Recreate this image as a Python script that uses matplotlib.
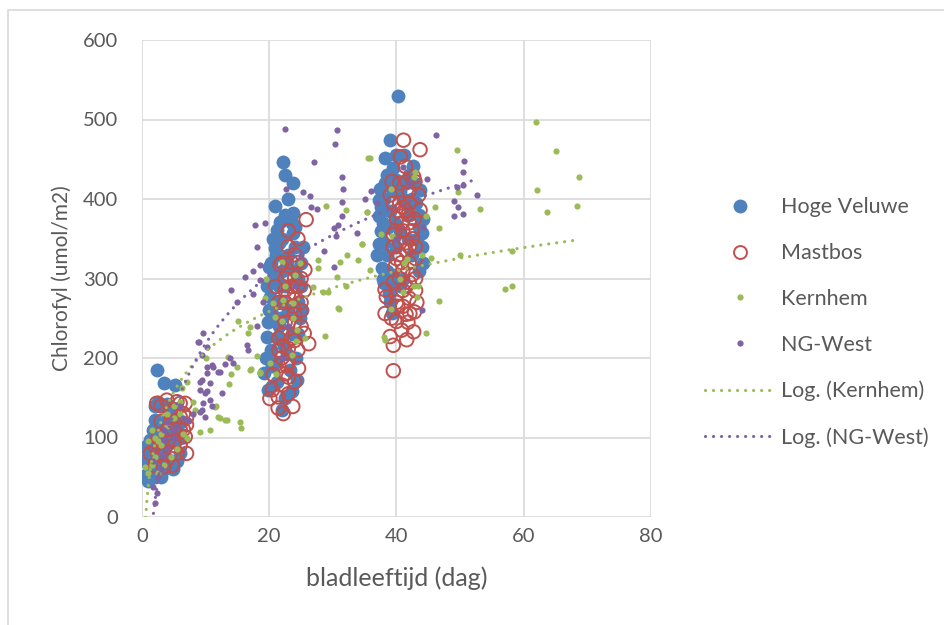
import numpy as np
import matplotlib
matplotlib.use("Agg")
import matplotlib.pyplot as plt
from matplotlib.lines import Line2D
from matplotlib.patches import Rectangle

plt.rcParams['font.family'] = ['Lato', 'DejaVu Sans']

# Hoge Veluwe (blue, filled)
hv_x = [0.5, 0.7, 1.5, 2.3, 3.4, 5.2, 2, 2.6, 1.3, 4.9, 4.4, 3, 4, 3, 4, 5, 1, 2, 3, 4, 5, 6, 5.5, 6, 2.5, 3.5, 1.8, 3.5, 4.5, 2.2,
        2.5, 3.5, 1.5, 0.5, 1, 2, 4.5, 5.5, 6.2, 3, 2, 1,
        22.2, 22.5, 23.8, 20.9, 23.8, 21.7, 21.2, 23.8, 20.9, 19.9, 19.6, 20.1, 23.5, 22, 19.1, 19.6, 24.3, 21, 22, 23,
        24, 21.5, 22.5, 20.5, 21.5, 20.2, 21, 20.5, 22.5, 23, 24.5, 25, 22, 20.8, 24, 21.3, 22.8, 23.2, 24.8, 19.8,
        19.5, 20, 20.3, 20.6, 21, 21.5, 22, 22.5, 23, 23.5, 24, 24.5, 25, 25.3, 21.8, 22.3, 23.5, 24.2, 20.4, 19.8,
        21.2, 24.5, 25.2, 22.8, 21,
        40.3, 38.9, 38.2, 39.5, 42.6, 37.4, 40, 37.2, 43.7, 37.2, 37.2, 44, 37.7, 38, 39.3, 37.9, 41, 39, 40.5, 38.5,
        42, 43, 41.5, 40, 39.5, 38.8, 42.5, 41, 43.5, 39, 40.5, 42, 38.2, 41.8,
        37, 37.5, 38, 38.5, 39.5, 40.5, 41.5, 42.5, 43.5, 44, 44.2, 43.5, 37.5, 38, 38.6, 39.8, 42.8, 43.2, 37.8, 38.5,
        39.2, 40, 44.2, 41.2, 40]
hv_y = [88, 53, 55, 185, 168, 166, 122, 105, 97, 61, 70, 140, 142, 112, 120, 125, 75, 85, 80, 90, 95, 100, 70, 80, 65, 60, 110, 100, 105, 70,
        145, 120, 75, 70, 90, 140, 135, 110, 120, 50, 50, 45,
        447, 430, 420, 391, 382, 371, 361, 357, 338, 315, 290, 277, 158, 135, 181, 227, 172, 300, 310, 330,
        340, 345, 290, 255, 240, 210, 195, 165, 150, 260, 300, 320, 270, 305, 365, 225, 205, 185, 250, 245,
        200, 260, 320, 350, 270, 290, 350, 380, 400, 370, 310, 270, 290, 340, 250, 215, 230, 200, 190, 160,
        170, 230, 260, 320, 330,
        529, 474, 452, 439, 441, 413, 424, 399, 411, 378, 344, 357, 313, 294, 256, 370, 400, 385, 360, 330,
        380, 395, 420, 340, 305, 280, 330, 300, 365, 270, 290, 430, 420, 350,
        330, 390, 400, 430, 410, 410, 395, 400, 380, 340, 320, 310, 360, 345, 365, 370, 420, 350, 300, 310,
        290, 300, 375, 455, 455]

# Mastbos (red, open)
mb_x = [2.3, 3.9, 6, 6.8, 4.4, 6, 7, 6.8, 7, 1.3, 2, 3.4, 3.9, 5.5, 3, 5, 4, 2.5, 6, 5, 3.5, 4.5, 6.5, 2, 4.8,
        3, 5.5, 4, 6.5, 3, 5, 6, 2.5, 4.5, 7,
        25.8, 23, 21.7, 25.6, 24, 22.5, 24.5, 23, 25, 22, 24, 23, 25, 22, 24, 23, 25.5, 26.2, 22, 24.6, 23, 20.6,
        22, 20.1, 21.4, 21.4, 23.7, 22.2, 23.5, 24.5, 22.5, 21.5, 23.8, 25, 22.8,
        21, 22, 23, 24, 25, 22.5, 23.5, 21.5, 22.5, 24, 21.5, 23.5, 24.5, 22, 23, 21.5, 24, 22.5, 20.5, 23,
        24.5, 23, 24, 25.5,
        41.1, 43.7, 40.6, 41.4, 42.7, 39.3, 41.6, 42.9, 39, 43.7, 38.2, 38.4, 38.2, 40, 42.1, 42.7, 41.6, 39, 39.5,
        39.5, 40.5, 41.5, 42, 40, 41, 42.5, 40.5, 41.5, 40, 42, 41, 40.5, 42.5, 41.5, 40, 42, 41, 43, 39.5, 43,
        40.2, 41.8, 43.2,
        39.5, 40.3, 41, 42, 39.8, 40.8, 41.8, 42.8, 39.5, 40.5, 41.5, 42.5, 39.8, 40.8, 42, 43, 39.5, 41, 42, 43,
        40, 41.5, 42.8, 39.2, 40.8, 42, 40.5, 43.5]
mb_y = [143, 147, 143, 143, 132, 126, 116, 101, 80, 80, 65, 63, 72, 80, 120, 110, 95, 100, 90, 135, 85, 120, 110, 90, 65,
        140, 145, 110, 130, 95, 90, 110, 80, 80, 125,
        374, 340, 317, 311, 330, 300, 290, 280, 270, 260, 255, 245, 240, 230, 222, 212, 231, 218, 200, 187, 176, 179,
        166, 149, 151, 137, 139, 130, 320, 350, 285, 210, 265, 300, 190,
        290, 320, 305, 280, 260, 270, 290, 270, 245, 245, 225, 225, 210, 215, 195, 190, 170, 180, 160, 155,
        320, 360, 300, 285,
        474, 462, 453, 441, 428, 422, 422, 422, 405, 386, 286, 277, 256, 246, 256, 233, 223, 227, 216,
        184, 395, 385, 370, 375, 360, 350, 345, 335, 325, 320, 310, 300, 305, 290, 280, 275, 265, 340, 355, 300,
        265, 245, 270,
        395, 385, 390, 395, 360, 370, 380, 375, 340, 330, 345, 360, 315, 320, 340, 325, 295, 285, 295, 285,
        270, 255, 258, 250, 235, 410, 420, 405]

# Kernhem (green, small)
kh_x = [0.5, 1, 1.5, 2, 2.5, 3, 4, 5, 6, 5, 4, 3, 2, 6.5, 7, 5.5, 4.5, 3.5, 6, 1, 1.5, 2.5, 6.3, 7, 8.3, 9.1, 10.7,
        12.3, 13.3, 11.5, 13.5, 11.6, 12, 13, 15.4, 15.6, 13.7, 15, 17, 18.6, 15.1, 17, 16.7, 10, 8, 14,
        18, 17.2, 18.6, 20.1, 23.5, 19.3, 20.6, 22.2, 23.8, 20.9, 22, 23.8, 24.3, 24.2, 25.6, 22, 24.8, 24, 26.9,
        28.5, 29.2, 30.8, 28.8, 30.6, 32.1, 27.7, 27.7, 31.1, 34, 32.2, 34.6, 28.9, 32.1, 35.3, 35.5, 30.9, 19.5,
        21, 22.5,
        49.5, 35.8, 49.6, 53.1, 46.1, 35.4, 34.5, 46.7, 44.6, 39.1, 42.9, 42.7, 37.6, 39.3, 45.4, 50, 41.6, 41.2,
        35.8, 42.7, 43.4, 41, 43.2, 46.7, 39.1, 44.7, 38, 38.2, 61.9, 65.1, 68.7, 62.1, 63.6, 68.4, 58.2, 57,
        58.1, 40.5, 44]
kh_y = [63, 55, 65, 75, 95, 105, 115, 125, 130, 140, 130, 90, 100, 105, 100, 85, 75, 65, 145, 95, 110, 55, 162, 170, 135, 107, 109,
        125, 122, 138, 201, 139, 126, 122, 120, 112, 167, 189, 185, 181, 247, 239, 231, 200, 145, 180,
        203, 186, 183, 194, 204, 275, 269, 273, 269, 252, 246, 250, 235, 221, 225, 321, 319, 304, 289,
        283, 283, 263, 228, 302, 290, 323, 313, 321, 323, 330, 343, 391, 386, 384, 451, 262, 300,
        180, 290,
        462, 451, 409, 387, 390, 384, 344, 364, 378, 413, 434, 428, 356, 353, 326, 330, 325, 319,
        311, 290, 290, 283, 277, 272, 262, 232, 227, 223, 497, 461, 428, 411, 384, 391, 335, 287,
        290, 300, 330]

# NG-West (purple, small)
ng_x = [1.8, 2.3, 2, 1.8, 3.4, 3.1, 4.9, 6.5, 7.3, 3, 4, 4, 5, 6, 2.5, 5.5, 3.5, 8.9, 10.2, 9.4, 10.2, 11, 10.2,
        9.1, 10.7, 12, 13, 9.1, 10.2, 10.7, 9.4, 9.9, 12.5, 9.6, 8.8, 11.2, 12.3, 13.8, 14.3, 9.4, 9.9, 9.6, 9.1,
        8, 11, 16.5, 16.7, 18, 18.6, 17.4, 16.2, 15, 14, 19, 18,
        22.5, 30.6, 30.3, 27, 22.7, 25.3, 26.4, 31.5, 31.6, 31.4, 26.6, 27.5, 31.4, 30.8, 30.1, 33.8, 30.5, 17.7,
        19.4, 28.6, 30.1, 17.5, 18.6, 24, 23, 22, 25,
        46.2, 50.6, 50.4, 49.5, 50.5, 52.6, 49.1, 49.7, 49.1, 50.4, 44.8, 44.2, 44, 35, 36, 37, 42, 41, 40]
ng_y = [70, 30, 17, 38, 97, 78, 109, 124, 122, 60, 85, 120, 100, 140, 50, 115, 110, 220, 214, 204, 189, 191, 181,
        170, 168, 183, 193, 160, 158, 147, 135, 126, 156, 231, 220, 189, 183, 200, 194, 172, 156, 143, 132,
        130, 140, 216, 210, 339, 317, 309, 302, 270, 285, 270, 240,
        488, 487, 469, 447, 412, 409, 404, 428, 413, 396, 390, 388, 378, 367, 363, 357, 353, 367,
        370, 335, 315, 281, 298, 290, 240, 200, 330,
        480, 448, 434, 415, 418, 405, 398, 390, 379, 381, 425, 365, 260, 400, 410, 395, 420, 440, 350]

# logarithmic trend lines: y = a*ln(x) + b
kh_a, kh_b = 73.0, 40.0
ng_a, ng_b = 124.5, -68.6

c_blue = '#4f81bd'
c_red = '#c0504d'
c_green = '#9bbb59'
c_purple = '#8064a2'
c_text = '#595959'
c_grid = '#d9d9d9'

fig = plt.figure(figsize=(9.45, 6.25), dpi=100)
ax = fig.add_axes([142/945, 108/625, 509/945, 477/625])

ax.scatter(hv_x, hv_y, s=100, color=c_blue, linewidths=0, zorder=3)
ax.scatter(mb_x, mb_y, s=95, facecolors='none', edgecolors=c_red, linewidths=1.4, zorder=4)
ax.scatter(kh_x, kh_y, s=20, color=c_green, linewidths=0, zorder=5)
ax.scatter(ng_x, ng_y, s=20, color=c_purple, linewidths=0, zorder=6)

dot = (0, (0.01, 2.5))
xk = np.linspace(min(kh_x), max(kh_x), 300)
ax.plot(xk, kh_a*np.log(xk) + kh_b, color=c_green, lw=2.3, ls=dot, dash_capstyle='round', zorder=7)
xn = np.linspace(min(ng_x), max(ng_x), 300)
ax.plot(xn, ng_a*np.log(xn) + ng_b, color=c_purple, lw=2.3, ls=dot, dash_capstyle='round', zorder=7)

ax.set_xlim(0, 80)
ax.set_ylim(0, 600)
ax.set_xticks(range(0, 81, 20))
ax.set_yticks(range(0, 601, 100))
ax.grid(True, color=c_grid, lw=1.2, zorder=0)
ax.set_axisbelow(True)
for sp in ax.spines.values():
    sp.set_visible(False)
ax.tick_params(length=0, labelsize=14.5, colors=c_text)
ax.tick_params(axis='y', pad=17)
ax.tick_params(axis='x', pad=8)
ax.set_xlabel('bladleeftijd (dag)', fontsize=18, color=c_text, labelpad=15)
ax.set_ylabel('Chlorofyl (umol/m2)', fontsize=15, color=c_text, labelpad=8)

handles = [
    Line2D([], [], ls='none', marker='o', ms=10, color=c_blue, mew=0),
    Line2D([], [], ls='none', marker='o', ms=9.3, mfc='none', mec=c_red, mew=1.4),
    Line2D([], [], ls='none', marker='o', ms=4.5, color=c_green, mew=0),
    Line2D([], [], ls='none', marker='o', ms=4.5, color=c_purple, mew=0),
    Line2D([], [], color=c_green, lw=2.3, ls=dot, dash_capstyle='round'),
    Line2D([], [], color=c_purple, lw=2.3, ls=dot, dash_capstyle='round'),
]
labels = ['Hoge Veluwe', 'Mastbos', 'Kernhem', 'NG-West', 'Log. (Kernhem)', 'Log. (NG-West)']
leg = fig.legend(handles, labels, loc='center left', bbox_to_anchor=(686/945, 0.484),
                 frameon=False, fontsize=15.5, labelspacing=1.2, handlelength=3.2,
                 handletextpad=0.3, labelcolor=c_text)

fig.patches.append(Rectangle((8/945, -0.02), 1.0, 1.0 - 10/625 + 0.02, transform=fig.transFigure,
                             fill=False, edgecolor=c_grid, lw=1.2))

fig.savefig('out.png', dpi=100)
